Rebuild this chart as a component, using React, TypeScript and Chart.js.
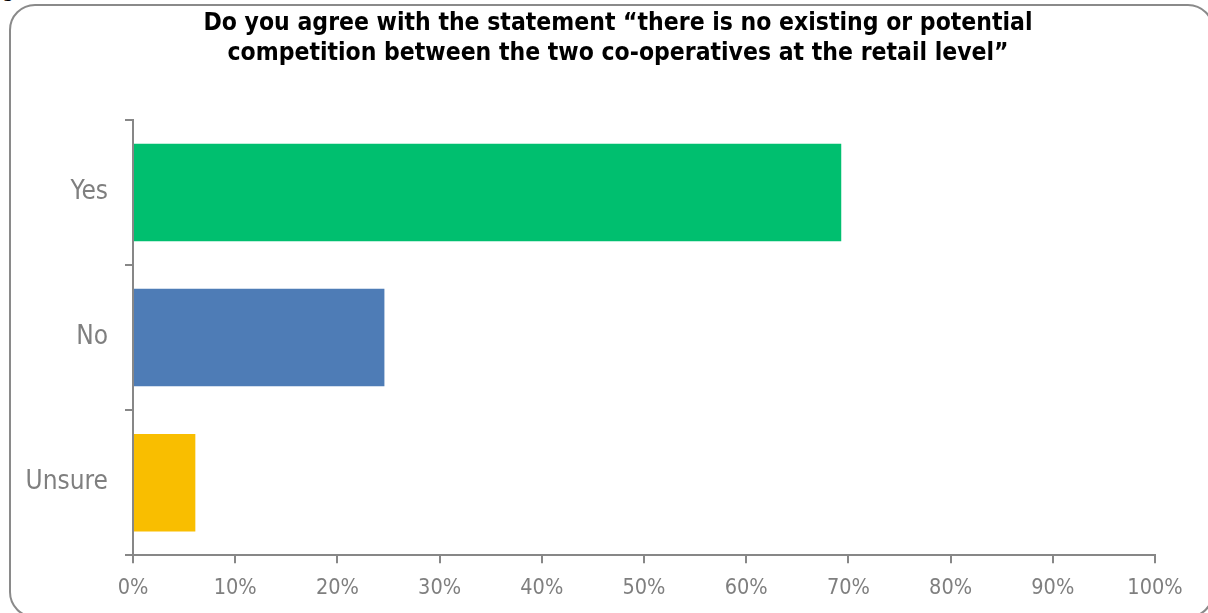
import React, { useEffect, useRef } from "react";
import { Chart, registerables } from "chart.js";

Chart.register(...registerables);

const titleLines = [
  "Do you agree with the statement “there is no existing or potential",
  "competition between the two co-operatives at the retail level”",
];
const categories = ["Yes", "No", "Unsure"];
const values = [69.3, 24.6, 6.1];
const barColors = ["#00BF6F", "#4E7CB6", "#F9BE00"];
const xTickStep = 10;

const TEXT_GRAY = "#7F7F7F";
const AXIS_GRAY = "#878787";
const LABEL_FONT = "'Liberation Sans Narrow', 'DejaVu Sans Condensed', 'Open Sans', sans-serif";
const TITLE_FONT = "'DejaVu Sans Condensed', 'DejaVu Sans', sans-serif";

export default function App() {
  const canvasRef = useRef<HTMLCanvasElement | null>(null);

  useEffect(() => {
    if (!canvasRef.current) return;
    const chart = new Chart(canvasRef.current, {
      type: "bar",
      data: {
        labels: categories,
        datasets: [
          {
            data: values,
            backgroundColor: barColors,
            borderWidth: 0,
            barPercentage: 0.672,
            categoryPercentage: 1,
          },
        ],
      },
      options: {
        indexAxis: "y",
        animation: false,
        responsive: false,
        maintainAspectRatio: false,
        layout: { padding: { left: 10, right: 53, top: 120, bottom: 0 } },
        plugins: {
          legend: { display: false },
          tooltip: { enabled: false },
          title: { display: false },
        },
        scales: {
          x: {
            type: "linear",
            min: 0,
            max: 100,
            ticks: {
              stepSize: xTickStep,
              callback: (v: any) => v + "%",
              color: TEXT_GRAY,
              font: { family: LABEL_FONT, size: 21.5 },
              padding: 12,
              maxRotation: 0,
            },
            grid: {
              drawOnChartArea: false,
              drawTicks: true,
              tickLength: 8,
              color: AXIS_GRAY,
              lineWidth: 2,
            },
            border: { display: true, color: AXIS_GRAY, width: 2 },
          },
          y: {
            type: "category",
            offset: true,
            afterFit: (scale: any) => {
              scale.width = 123;
            },
            ticks: {
              color: TEXT_GRAY,
              font: { family: LABEL_FONT, size: 26 },
              padding: 17,
            },
            grid: {
              offset: true,
              drawOnChartArea: false,
              drawTicks: true,
              tickLength: 8,
              color: AXIS_GRAY,
              lineWidth: 2,
            },
            border: { display: true, color: AXIS_GRAY, width: 2 },
          },
        },
      },
    });
    return () => chart.destroy();
  }, []);

  return (
    <div
      style={{
        position: "fixed",
        left: 0,
        top: 0,
        width: 1208,
        height: 613,
        overflow: "hidden",
        background: "#ffffff",
      }}
    >
      <span
        style={{
          position: "absolute",
          left: 2,
          top: -22,
          fontFamily: "'DejaVu Sans', sans-serif",
          fontSize: 20,
          color: "#000",
        }}
      >
        g
      </span>
      <div
        style={{
          position: "absolute",
          left: 9,
          top: 4,
          width: 1205,
          height: 614,
          boxSizing: "border-box",
          border: "2px solid #8A8A8A",
          borderRadius: 26,
        }}
      />
      <canvas
        ref={canvasRef}
        width={1208}
        height={613}
        style={{ position: "absolute", left: 0, top: 0, width: 1208, height: 613 }}
      />
      <div
        style={{
          position: "absolute",
          left: 0,
          top: 7,
          width: 1236,
          textAlign: "center",
          fontFamily: TITLE_FONT,
          fontWeight: "bold",
          fontSize: 24.5,
          lineHeight: "30px",
          color: "#000",
          whiteSpace: "nowrap",
        }}
      >
        {titleLines.map((l, i) => (
          <div key={i}>{l}</div>
        ))}
      </div>
    </div>
  );
}
